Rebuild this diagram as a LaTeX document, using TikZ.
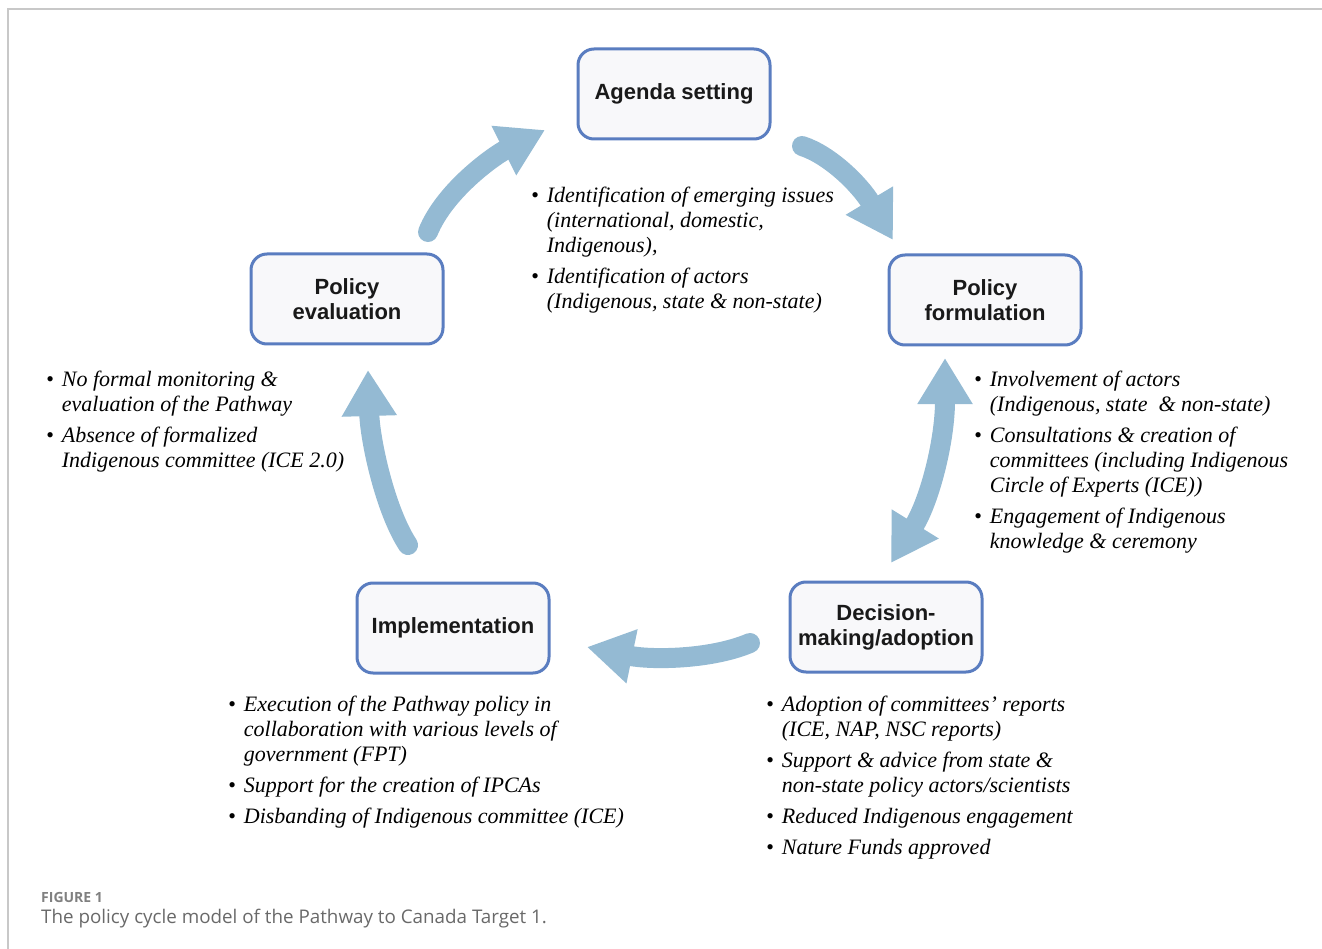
\documentclass[tikz,border=0pt]{standalone}
\usepackage{fontspec}
\setmainfont{Liberation Serif}
\setsansfont{Liberation Sans}
\newfontfamily\capfont{Open Sans}
\usetikzlibrary{arrows.meta}

\definecolor{stageblue}{RGB}{90,125,192}
\definecolor{stagefill}{RGB}{248,248,250}
\definecolor{flowblue}{RGB}{148,186,211}
\definecolor{framegray}{RGB}{200,200,200}
\definecolor{capgray}{RGB}{105,105,105}

% bullet lists: bullet column, then the lines of each point
\newenvironment{pointlist}{\begin{tabular}[t]{@{}l@{\hspace{8pt}}l@{}}}{\end{tabular}}
\newcommand\pnt{\textbullet&}

\begin{document}
\begin{tikzpicture}[x=1pt, y=-1pt,
	stage/.style={draw=stageblue, line width=3pt, fill=stagefill, rounded corners=16pt,
		minimum width=192pt, minimum height=90pt, align=center, text=black!90,
		font=\fontsize{22}{25}\selectfont\sffamily\bfseries},
	notes/.style={anchor=base west, inner sep=0pt,
		font=\fontsize{22}{25}\selectfont\itshape},
	flow/.style={draw=flowblue, line width=20pt, line cap=round},
	>={Triangle[length=46pt, width=52pt]}
]

	\useasboundingbox (0,0) rectangle (1322,949);
	\draw[framegray, line width=1.5pt] (8,949) -- (8,9) -- (1322,9);

	% the five stages
	\node[stage] (agenda) at (674,94) {Agenda setting};
	\node[stage] (formul) at (985,300) {Policy\\formulation};
	\node[stage] (decide) at (886,627) {Decision-\\making/adoption};
	\node[stage] (implem) at (453,628) {Implementation};
	\node[stage] (evalu) at (347,299) {Policy\\evaluation};

	% ends of the cycle arrows
	\coordinate (ev-out) at (428,232);
	\coordinate (ag-in) at (545,130);
	\coordinate (ag-out) at (802,146);
	\coordinate (fo-in) at (893,240);
	\coordinate (fo-end) at (945,358);
	\coordinate (de-end) at (891,563);
	\coordinate (de-out) at (750,643);
	\coordinate (im-in) at (587,647);
	\coordinate (im-out) at (408,545);
	\coordinate (ev-in) at (368,370);

	\foreach \s/\ax/\ay/\bx/\by/\t in {ev-out/17/-42/-50/25/ag-in, ag-out/28/9/-33/-55/fo-in,
		de-out/-40/17/63/13/im-in, im-out/-23/-35/2/70/ev-in}
		\draw[flow,->] (\s) .. controls +(\ax,\ay) and +(\bx,\by) .. (\t);
	\draw[flow,<->] (fo-end) .. controls +(0,82) and +(39,-63) .. (de-end);

	% notes under each stage
	\node[notes] (agenda notes) at (531,203) {\begin{pointlist}
		\pnt Identification of emerging issues\\
		& (international, domestic,\\
		& Indigenous),\\[6pt]
		\pnt Identification of actors\\
		& (Indigenous, state \& non-state)
	\end{pointlist}};
	\node[notes] (formul notes) at (974,386) {\begin{pointlist}
		\pnt Involvement of actors\\
		& (Indigenous, state\ \ \& non-state)\\[6pt]
		\pnt Consultations \& creation of\\
		& committees (including Indigenous\\
		& Circle of Experts (ICE))\\[6pt]
		\pnt Engagement of Indigenous\\
		& knowledge \& ceremony
	\end{pointlist}};
	\node[notes] (decide notes) at (766,711) {\begin{pointlist}
		\pnt Adoption of committees’ reports\\
		& (ICE, NAP, NSC reports)\\[6pt]
		\pnt Support \& advice from state \&\\
		& non-state policy actors/scientists\\[6pt]
		\pnt Reduced Indigenous engagement\\[6pt]
		\pnt Nature Funds approved
	\end{pointlist}};
	\node[notes] (implem notes) at (228,711) {\begin{pointlist}
		\pnt Execution of the Pathway policy in\\
		& collaboration with various levels of\\
		& government (FPT)\\[6pt]
		\pnt Support for the creation of IPCAs\\[6pt]
		\pnt Disbanding of Indigenous committee (ICE)
	\end{pointlist}};
	\node[notes] (evalu notes) at (46,386) {\begin{pointlist}
		\pnt No formal monitoring \&\\
		& evaluation of the Pathway\\[6pt]
		\pnt Absence of formalized\\
		& Indigenous committee (ICE 2.0)
	\end{pointlist}};

	% caption
	\node[anchor=base west, inner sep=0pt, text=capgray!85, font=\capfont\bfseries\fontsize{14}{16}\selectfont] (fig) at (41,902) {FIGURE 1};
	\node[anchor=base west, inner sep=0pt, text=capgray, font=\capfont\fontsize{18.8}{21}\selectfont] (caption) at (41,923) {The policy cycle model of the Pathway to Canada Target 1.};
\end{tikzpicture}
\end{document}
